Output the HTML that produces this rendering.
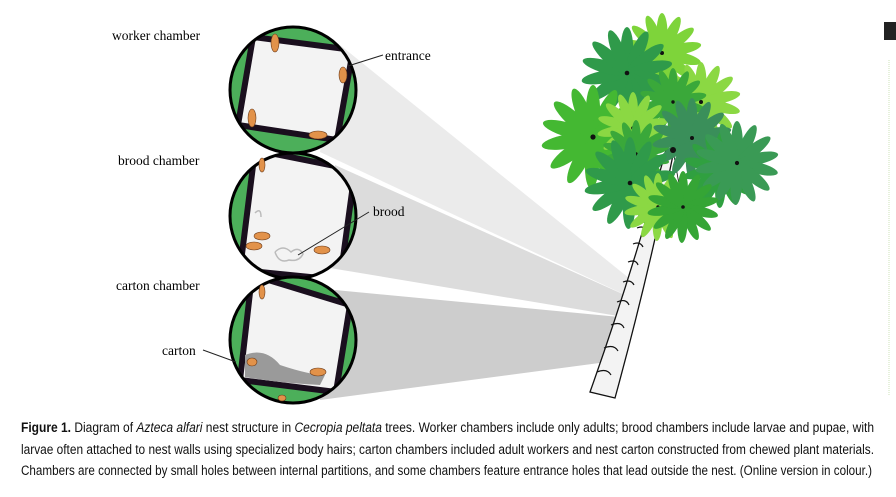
<!DOCTYPE html>
<html><head><meta charset="utf-8"><style>
html,body{margin:0;padding:0;background:#fff;}
svg{display:block;}
</style></head><body>
<svg width="896" height="497" viewBox="0 0 896 497" xmlns="http://www.w3.org/2000/svg">
<defs>
<clipPath id="c1"><circle cx="293" cy="90" r="63"/></clipPath>
<clipPath id="c2"><circle cx="293" cy="216" r="63"/></clipPath>
<clipPath id="c3"><circle cx="293" cy="340" r="63"/></clipPath>
<g id="leaf">
<ellipse cx="0" cy="-20" rx="5.5" ry="20"/>
<ellipse cx="0" cy="-20" rx="5.5" ry="20" transform="rotate(26)"/>
<ellipse cx="0" cy="-20" rx="5.5" ry="20" transform="rotate(52)"/>
<ellipse cx="0" cy="-20" rx="5.5" ry="20" transform="rotate(78)"/>
<ellipse cx="0" cy="-20" rx="5.5" ry="20" transform="rotate(104)"/>
<ellipse cx="0" cy="-20" rx="5.5" ry="20" transform="rotate(130)"/>
<ellipse cx="0" cy="-20" rx="5.5" ry="20" transform="rotate(156)"/>
<ellipse cx="0" cy="-20" rx="5.5" ry="20" transform="rotate(182)"/>
<ellipse cx="0" cy="-20" rx="5.5" ry="20" transform="rotate(208)"/>
<ellipse cx="0" cy="-20" rx="5.5" ry="20" transform="rotate(234)"/>
<ellipse cx="0" cy="-20" rx="5.5" ry="20" transform="rotate(260)"/>
<ellipse cx="0" cy="-20" rx="5.5" ry="20" transform="rotate(286)"/>
<ellipse cx="0" cy="-20" rx="5.5" ry="20" transform="rotate(312)"/>
<ellipse cx="0" cy="-20" rx="5.5" ry="20" transform="rotate(338)"/>
<circle r="2" fill="#111"/>
</g>
</defs>
<!-- wedges -->
<polygon points="340,45 640,287 636,300 320,152" fill="#ebebeb"/>
<polygon points="335,165 636,300 630,318 330,268" fill="#dcdcdc"/>
<polygon points="335,290 630,318 622,360 320,400" fill="#cdcdcd"/>
<!-- trunk -->
<path d="M590,392 Q630,280 666,150 L674,150 Q650,270 615,398 Z" fill="#f3f3f3" stroke="#111" stroke-width="1.3"/>
<g stroke="#111" stroke-width="1.2" fill="none">
<path d="M597,372 q10,-4 14,3"/><path d="M604,348 q10,-4 14,3"/><path d="M611,325 q10,-4 13,3"/>
<path d="M617,302 q9,-4 12,3"/><path d="M623,282 q8,-3 11,3"/><path d="M628,262 q8,-3 10,3"/>
<path d="M633,244 q7,-3 10,3"/><path d="M637,228 q7,-3 9,3"/><path d="M641,213 q6,-3 8,3"/>
<path d="M645,198 q6,-3 8,2"/><path d="M649,185 q6,-2 7,2"/><path d="M653,173 q5,-2 7,2"/>
</g>
<!-- leaves -->
<g stroke="#111" stroke-width="0.8">
<line x1="673" y1="150" x2="627" y2="73"/><line x1="673" y1="150" x2="593" y2="137"/><line x1="673" y1="150" x2="737" y2="163"/><line x1="673" y1="150" x2="630" y2="183"/><line x1="673" y1="150" x2="683" y2="207"/>
</g>
<g fill="#7ed43a"><use href="#leaf" transform="translate(662,53) scale(1.0)"/></g>
<g fill="#2f9a4a"><use href="#leaf" transform="translate(627,73) scale(1.15)"/></g>
<g fill="#8bd843"><use href="#leaf" transform="translate(701,102) scale(1.0)"/></g>
<g fill="#3aa83a"><use href="#leaf" transform="translate(673,102) scale(0.85)"/></g>
<g fill="#44b832"><use href="#leaf" transform="translate(593,137) scale(1.3)"/></g>
<g fill="#8bd843"><use href="#leaf" transform="translate(633,128) scale(0.9)"/></g>
<g fill="#3aa83a"><use href="#leaf" transform="translate(636,154) scale(0.85)"/></g>
<g fill="#3a8f5a"><use href="#leaf" transform="translate(692,138) scale(1.0)"/></g>
<g fill="#30a040"><use href="#leaf" transform="translate(721,170) scale(0.95)"/></g>
<g fill="#3a9a55"><use href="#leaf" transform="translate(737,163) scale(1.05)"/></g>
<g fill="#2f9a4a"><use href="#leaf" transform="translate(630,183) scale(1.15)"/></g>
<g fill="#8bd843"><use href="#leaf" transform="translate(658,207) scale(0.85)"/></g>
<g fill="#35a535"><use href="#leaf" transform="translate(683,207) scale(0.9)"/></g>
<circle cx="673" cy="150" r="3" fill="#111"/>
<!-- chambers -->
<g clip-path="url(#c1)">
<rect x="220" y="20" width="150" height="150" fill="#4caf5a"/>
<polygon points="253,37 353,50 337,140 238,125" fill="#f3f3f3" stroke="#1a0f1e" stroke-width="6"/>
</g>
<circle cx="293" cy="90" r="63" fill="none" stroke="#000" stroke-width="3"/>
<g clip-path="url(#c2)">
<rect x="220" y="150" width="150" height="140" fill="#4caf5a"/>
<polygon points="255,150 355,170 340,280 240,270" fill="#f3f3f3" stroke="#1a0f1e" stroke-width="6"/>
</g>
<circle cx="293" cy="216" r="63" fill="none" stroke="#000" stroke-width="3"/>
<g clip-path="url(#c3)">
<rect x="220" y="275" width="150" height="140" fill="#4caf5a"/>
<polygon points="252,275 350,305 336,392 240,380" fill="#f3f3f3" stroke="#1a0f1e" stroke-width="6"/>
<path d="M245,355 q20,-8 35,10 q30,10 45,10 l-5,10 q-40,-2 -75,-8 Z" fill="#9a9a9a"/>
</g>
<circle cx="293" cy="340" r="63" fill="none" stroke="#000" stroke-width="3"/>
<!-- ants -->
<g fill="#e2924a" stroke="#6a3a1a" stroke-width="0.6">
<ellipse cx="275" cy="43" rx="4" ry="9"/><ellipse cx="343" cy="75" rx="4" ry="8"/>
<ellipse cx="252" cy="118" rx="4" ry="9"/><ellipse cx="318" cy="135" rx="9" ry="4"/>
<ellipse cx="262" cy="165" rx="3" ry="7"/><ellipse cx="262" cy="236" rx="8" ry="4"/>
<ellipse cx="254" cy="246" rx="8" ry="4"/><ellipse cx="322" cy="250" rx="8" ry="4"/>
<ellipse cx="262" cy="292" rx="3" ry="7"/><ellipse cx="252" cy="362" rx="5" ry="4"/>
<ellipse cx="318" cy="372" rx="8" ry="4"/><ellipse cx="282" cy="398" rx="4" ry="3"/>
</g>
<g fill="none" stroke="#bbb" stroke-width="1.5">
<path d="M275,252 q8,-8 16,0 q8,-6 12,2 q-4,8 -14,6 q-10,4 -14,-8"/>
<path d="M255,213 q6,-6 6,4"/>
</g>
<!-- leader lines -->
<g stroke="#222" stroke-width="1">
<line x1="348" y1="66" x2="383" y2="55"/>
<line x1="298" y1="255" x2="369" y2="212"/>
<line x1="203" y1="350" x2="236" y2="362"/>
</g>
<!-- labels -->
<g font-family="Liberation Serif, serif" font-size="13.5" fill="#000">
<text x="112" y="40">worker chamber</text>
<text x="118" y="165">brood chamber</text>
<text x="116" y="290">carton chamber</text>
<text x="162" y="355">carton</text>
<text x="385" y="60">entrance</text>
<text x="373" y="216">brood</text>
</g>
<!-- right edge -->
<rect x="884" y="22" width="12" height="18" fill="#222"/>
<line x1="889" y1="60" x2="889" y2="395" stroke="#cde3b8" stroke-width="1" stroke-dasharray="1,1"/>
<!-- caption -->
<g font-family="Liberation Sans Narrow, Liberation Sans, sans-serif" font-size="13.5" fill="#111">
<text x="21" y="432" textLength="853" lengthAdjust="spacingAndGlyphs"><tspan font-weight="bold">Figure 1.</tspan> Diagram of <tspan font-style="italic">Azteca alfari</tspan> nest structure in <tspan font-style="italic">Cecropia peltata</tspan> trees. Worker chambers include only adults; brood chambers include larvae and pupae, with</text>
<text x="21" y="454" textLength="853" lengthAdjust="spacingAndGlyphs">larvae often attached to nest walls using specialized body hairs; carton chambers included adult workers and nest carton constructed from chewed plant materials.</text>
<text x="21" y="475" textLength="851" lengthAdjust="spacingAndGlyphs">Chambers are connected by small holes between internal partitions, and some chambers feature entrance holes that lead outside the nest. (Online version in colour.)</text>
</g>
</svg>
</body></html>
